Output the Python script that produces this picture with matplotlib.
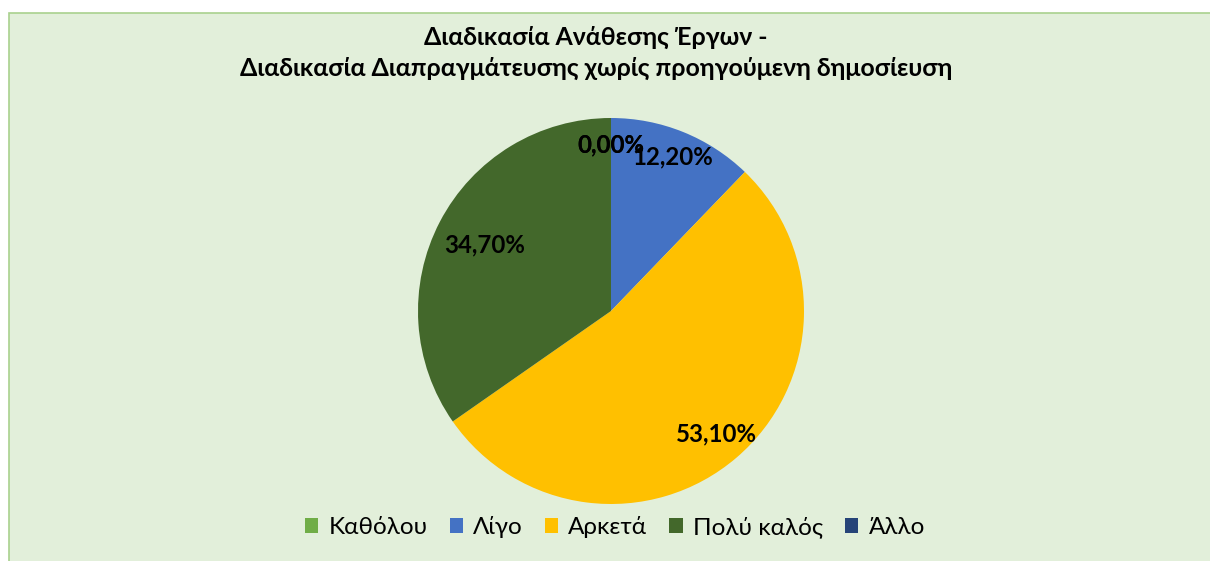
import matplotlib
matplotlib.use("Agg")
import matplotlib.pyplot as plt
from matplotlib.patches import Rectangle
import numpy as np

categories = ["Καθόλου", "Λίγο", "Αρκετά", "Πολύ καλός", "Άλλο"]
values = [0.0, 12.2, 53.1, 34.7, 0.0]
colors = ["#70AD47", "#4472C4", "#FFC000", "#43682B", "#264478"]
title = "Διαδικασία Ανάθεσης Έργων -\nΔιαδικασία Διαπραγμάτευσης χωρίς προηγούμενη δημοσίευση"

plt.rcParams['font.family'] = ['Lato', 'DejaVu Sans']

W, H = 1210, 561
fig = plt.figure(figsize=(W / 100, H / 100), dpi=100)
fig.patch.set_facecolor("white")
fig.patches.append(Rectangle((9 / W, -0.05), 1.1, 1 - 13 / H + 0.05, transform=fig.transFigure,
                             facecolor="#E2EFDA", edgecolor="#A9D18E", linewidth=1.2, zorder=-5))

cx, cy, r = 611, 311, 193
ax = fig.add_axes([(cx - r) / W, 1 - (cy + r) / H, 2 * r / W, 2 * r / H])
ax.set_zorder(2)
ax.set_facecolor("none")

wedges, texts = ax.pie(values, colors=colors, startangle=90, counterclock=False,
                       radius=1.0, wedgeprops=dict(linewidth=0))
ax.set_xlim(-1, 1)
ax.set_ylim(-1, 1)
ax.set_aspect("equal")
ax.axis("off")

dists = [0.86, 0.86, 0.84, 0.74, 0.86]
for w, v, d in zip(wedges, values, dists):
    ang = np.deg2rad((w.theta1 + w.theta2) / 2)
    txt = f"{v:.2f}%".replace(".", ",")
    ax.text(d * np.cos(ang), d * np.sin(ang), txt, ha="center", va="center",
            fontsize=17.3, fontweight="bold", color="black")

fig.text(596 / W, 1 - 53 / H, title, ha="center", va="center", fontsize=17.9,
         fontweight="bold", linespacing=1.45)

handles = [plt.Rectangle((0, 0), 1, 1, facecolor=c) for c in colors]
fig.legend(handles, categories, loc="center", bbox_to_anchor=(615 / W, 1 - 527 / H),
           ncol=5, frameon=False, fontsize=17.5, handlelength=0.55, handleheight=0.55,
           handletextpad=0.42, columnspacing=0.9)

fig.savefig("out.png", dpi=100)
